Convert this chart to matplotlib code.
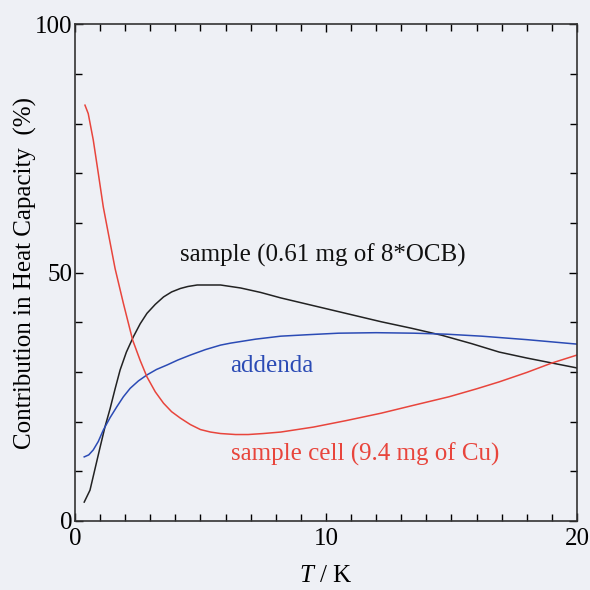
import matplotlib
matplotlib.use("Agg")
import matplotlib.pyplot as plt
from matplotlib.ticker import MultipleLocator

plt.rcParams['font.family'] = ['Liberation Serif', 'DejaVu Serif']
plt.rcParams['mathtext.fontset'] = 'custom'
plt.rcParams['mathtext.rm'] = 'Liberation Serif'
plt.rcParams['mathtext.it'] = 'Liberation Serif:italic'

# temperature (K) and contribution (%) of each part of the calorimeter
T_sample = [0.37, 0.6, 0.8, 1.0, 1.2, 1.4, 1.6, 1.8, 2.05, 2.33, 2.6, 2.87, 3.2, 3.53,
            3.85, 4.2, 4.5, 4.87, 5.8, 6.6, 7.4, 8.2, 9.2, 10.2, 11.2, 12.2, 13.4,
            14.6, 15.8, 16.9, 18.0, 19.0, 20.0]
c_sample = [3.8, 6.2, 10.5, 14.8, 19.0, 22.6, 26.6, 30.4, 34.0, 37.1, 39.7, 41.8, 43.6, 45.1,
            46.1, 46.8, 47.2, 47.5, 47.5, 46.9, 46.0, 44.9, 43.7, 42.5, 41.3, 40.1, 38.8,
            37.4, 35.7, 34.0, 32.8, 31.8, 30.8]

T_addenda = [0.37, 0.55, 0.73, 0.93, 1.13, 1.4, 1.67, 1.93, 2.2, 2.53, 2.87, 3.25, 3.67,
             4.1, 4.6, 5.2, 5.8, 6.2, 7.2, 8.2, 9.3, 10.5, 12.0, 13.5, 14.8, 16.2, 18.0, 20.0]
c_addenda = [12.9, 13.3, 14.3, 16.0, 18.3, 20.8, 23.0, 25.0, 26.7, 28.2, 29.4, 30.5, 31.4,
             32.4, 33.4, 34.5, 35.4, 35.8, 36.6, 37.2, 37.5, 37.8, 37.9, 37.8, 37.6, 37.2,
             36.5, 35.6]

T_cell = [0.4, 0.53, 0.73, 0.93, 1.13, 1.33, 1.6, 1.93, 2.3, 2.6, 2.87, 3.2, 3.53, 3.85,
          4.2, 4.6, 5.0, 5.4, 5.8, 6.4, 6.9, 7.5, 8.2, 9.5, 10.8, 12.2, 13.5, 14.9, 16.0,
          16.9, 18.0, 19.0, 20.0]
c_cell = [83.7, 82.0, 76.7, 70.0, 63.2, 57.9, 50.8, 43.8, 36.4, 32.3, 29.0, 26.0, 23.7, 22.0,
          20.7, 19.4, 18.4, 17.9, 17.6, 17.4, 17.4, 17.6, 17.9, 18.9, 20.2, 21.7, 23.3, 25.0,
          26.6, 28.0, 29.9, 31.8, 33.4]

bg = '#eef0f5'
red = '#e8453c'
blue = '#2b4bb5'

fig = plt.figure(figsize=(5.9, 5.9), dpi=100, facecolor=bg)
ax = fig.add_axes([0.127, 0.117, 0.851, 0.842], facecolor=bg)

ax.plot(T_sample, c_sample, color='#222222', lw=1.1)
ax.plot(T_addenda, c_addenda, color=blue, lw=1.1)
ax.plot(T_cell, c_cell, color=red, lw=1.1)

ax.text(4.2, 53.5, 'sample (0.61 mg of 8*OCB)', fontsize=18, color='#111111', va='center')
ax.text(6.2, 31.2, 'addenda', fontsize=18, color=blue, va='center')
ax.text(6.2, 13.4, 'sample cell (9.4 mg of Cu)', fontsize=18, color=red, va='center')

ax.set_xlim(0, 20)
ax.set_ylim(0, 100)
ax.xaxis.set_major_locator(MultipleLocator(10))
ax.xaxis.set_minor_locator(MultipleLocator(1))
ax.yaxis.set_major_locator(MultipleLocator(50))
ax.yaxis.set_minor_locator(MultipleLocator(10))
ax.tick_params(which='both', direction='in', top=True, right=True, labelsize=18, width=1.0)
ax.tick_params(which='major', length=6)
ax.tick_params(which='minor', length=5)
ax.tick_params(axis='x', pad=5)
ax.tick_params(axis='y', pad=2)
for s in ax.spines.values():
    s.set_linewidth(1.2)
    s.set_color('#333333')

ax.set_xlabel('$T$ / K', fontsize=18, labelpad=11)
ax.set_ylabel('Contribution in Heat Capacity  (%)', fontsize=18, labelpad=-2)

fig.savefig('out.png', dpi=100, facecolor=bg)
